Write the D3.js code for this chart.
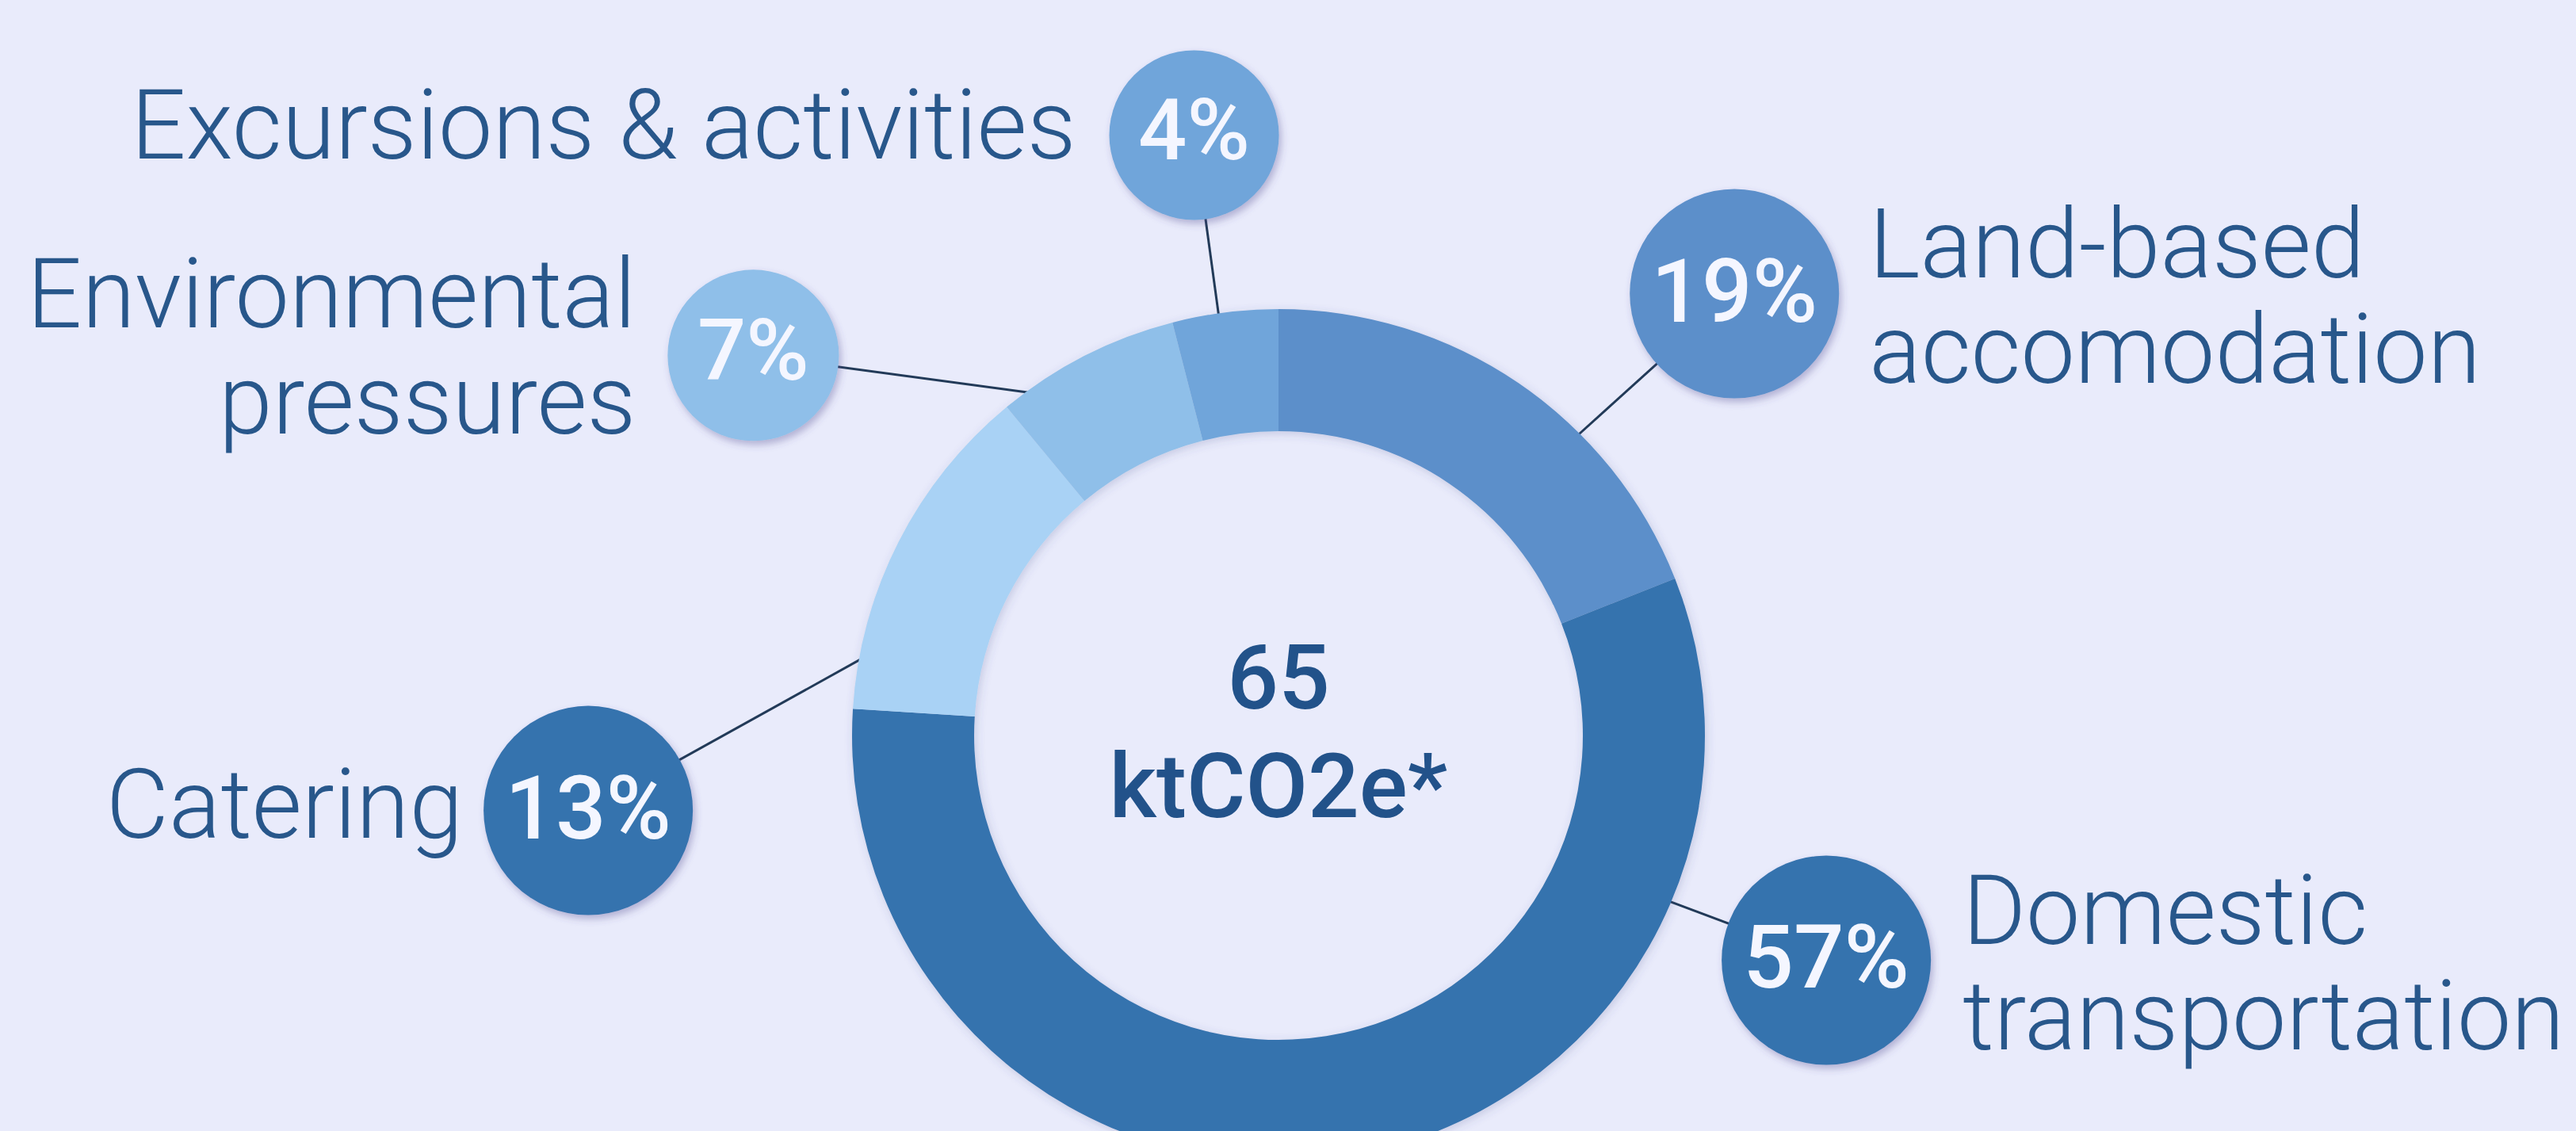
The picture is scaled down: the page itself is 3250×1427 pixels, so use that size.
<!DOCTYPE html>
<html>
<head>
<meta charset="utf-8">
<script src="https://cdn.jsdelivr.net/npm/d3@7"></script>
<style>
  html, body { margin: 0; padding: 0; background: #e9ebfb; }
  svg { display: block; }
</style>
</head>
<body>
<svg id="chart"></svg>
<script>
// Emission shares by source, in ring order clockwise from 12 o'clock
const categories = ["Land-based accomodation", "Domestic transportation", "Catering", "Environmental pressures", "Excursions & activities"];
const shares = [19, 57, 13, 7, 4];
const labelLines = [["Land-based", "accomodation"], ["Domestic", "transportation"], ["Catering"], ["Environmental", "pressures"], ["Excursions & activities"]];
const totalValue = "65";
const totalUnit = "ktCO2e*";

// Appearance
const sliceColors = ["#5b8fca", "#3673ae", "#a9d2f5", "#8fbfe9", "#6fa5da"];
const bubbleColors = ["#5b8fca", "#3673ae", "#3673ae", "#8fbfe9", "#6fa5da"];

// Callout layout: bubble angle (deg, clockwise from north) and distance from the ring centre,
// leader anchor angle on the outer edge, bubble radius, label side, gap and vertical offsets.
const callouts = [
  { angle: 45.9,  dist: 801, anchor: 44.9,  r: 132, side: "right", gap: 38, dy: [-21, 112] },
  { angle: 112.3, dist: 747, anchor: 113.0, r: 132, side: "right", gap: 40, dy: [-20, 113] },
  { angle: 263.8, dist: 876, anchor: 280.5, r: 132, side: "left",  gap: 26, dy: [34] },
  { angle: 305.9, dist: 818, anchor: 324.1, r: 108, side: "left",  gap: 40, dy: [-35, 99] },
  { angle: 352.0, dist: 765, anchor: 351.9, r: 107, side: "left",  gap: 42, dy: [30] }
];

const W = 3250, H = 1427;
const cx = 1613, cy = 928;
const innerR = 384, outerR = 538;

const svg = d3.select("#chart").attr("width", W).attr("height", H);
svg.append("rect").attr("width", W).attr("height", H).attr("fill", "#e9ebfb");

const defs = svg.append("defs");
const ringShadow = defs.append("filter").attr("id", "ringShadow")
  .attr("x", "-20%").attr("y", "-20%").attr("width", "140%").attr("height", "140%");
ringShadow.append("feDropShadow").attr("dx", 2).attr("dy", 3).attr("stdDeviation", 6)
  .attr("flood-color", "#3c4a8a").attr("flood-opacity", 0.22);
const bubbleShadow = defs.append("filter").attr("id", "bubbleShadow")
  .attr("x", "-30%").attr("y", "-30%").attr("width", "160%").attr("height", "160%");
bubbleShadow.append("feDropShadow").attr("dx", 3).attr("dy", 5).attr("stdDeviation", 5)
  .attr("flood-color", "#4a3f8a").attr("flood-opacity", 0.35);

const rad = d => d * Math.PI / 180;
const polar = (deg, dist) => [cx + dist * Math.sin(rad(deg)), cy - dist * Math.cos(rad(deg))];

const pie = d3.pie().sort(null).value(d => d)(shares);
const arc = d3.arc().innerRadius(innerR).outerRadius(outerR);

const data = categories.map((c, i) => ({
  name: c, share: shares[i], lines: labelLines[i], slice: pie[i],
  sliceColor: sliceColors[i], bubbleColor: bubbleColors[i], ...callouts[i]
}));

// Leader lines from the ring edge towards each bubble
svg.append("g").selectAll("line").data(data).join("line")
  .attr("x1", d => polar(d.anchor, outerR - 4)[0])
  .attr("y1", d => polar(d.anchor, outerR - 4)[1])
  .attr("x2", d => polar(d.angle, d.dist)[0])
  .attr("y2", d => polar(d.angle, d.dist)[1])
  .attr("stroke", "#223a58").attr("stroke-width", 3);

// Donut ring
svg.append("g").attr("transform", `translate(${cx},${cy})`).attr("filter", "url(#ringShadow)")
  .selectAll("path").data(data).join("path")
  .attr("d", d => arc(d.slice))
  .attr("fill", d => d.sliceColor);

// Percentage bubbles
const bubbles = svg.append("g").selectAll("g").data(data).join("g")
  .attr("transform", d => `translate(${polar(d.angle, d.dist)})`);
bubbles.append("circle").attr("r", d => d.r).attr("fill", d => d.bubbleColor)
  .attr("filter", "url(#bubbleShadow)");
bubbles.append("text")
  .attr("text-anchor", "middle").attr("dy", d => d.r > 120 ? 35 : 31)
  .attr("font-family", "Roboto, 'Noto Sans', sans-serif").attr("font-weight", 500)
  .attr("font-size", d => d.r > 120 ? 112 : 108)
  .attr("fill", "#f4f6ff")
  .text(d => d.share + "%");

// Category labels beside each bubble
const labels = svg.append("g").selectAll("text").data(data).join("text")
  .attr("font-family", "Roboto, 'Noto Sans', sans-serif").attr("font-weight", 300)
  .attr("font-size", 122).attr("fill", "#28578b")
  .attr("text-anchor", d => d.side === "right" ? "start" : "end")
  .attr("transform", d => {
    const [bx, by] = polar(d.angle, d.dist);
    const x = d.side === "right" ? bx + d.r + d.gap : bx - d.r - d.gap;
    return `translate(${x},${by})`;
  });
labels.selectAll("tspan").data(d => d.lines.map((t, k) => ({ t, dy: d.dy[k] }))).join("tspan")
  .attr("x", 0).attr("y", t => t.dy).text(t => t.t);

// Total in the centre of the ring
const centre = svg.append("text").attr("text-anchor", "middle")
  .attr("font-family", "Roboto, 'Noto Sans', sans-serif").attr("font-weight", 500)
  .attr("font-size", 114).attr("fill", "#22528a");
centre.append("tspan").attr("x", cx).attr("y", 894).text(totalValue);
centre.append("tspan").attr("x", cx).attr("y", 1031).text(totalUnit);
</script>
</body>
</html>
